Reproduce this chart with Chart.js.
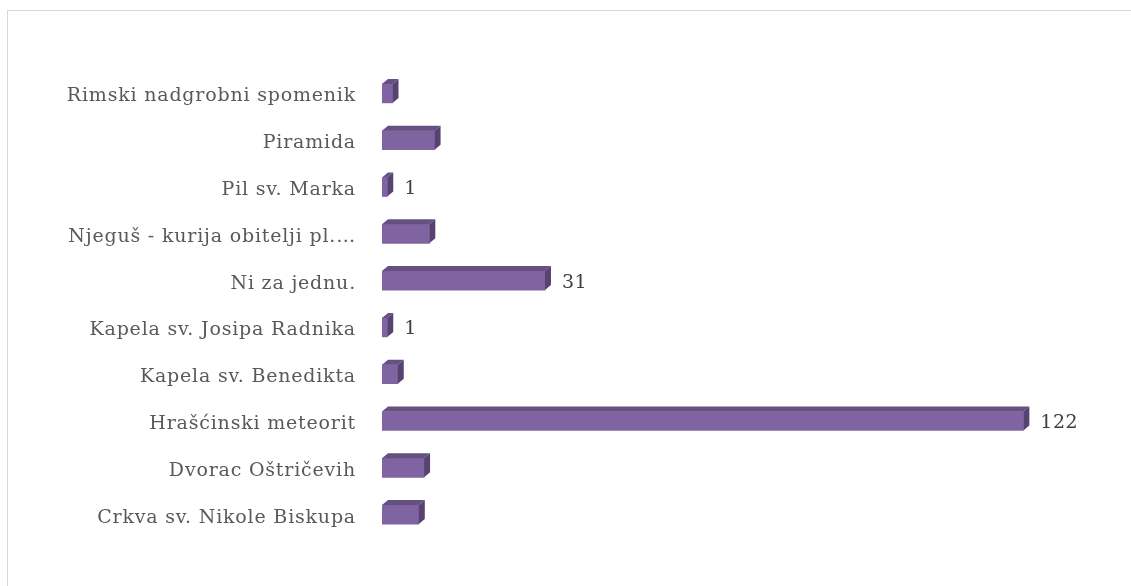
<!DOCTYPE html>
<html>
<head>
<meta charset="utf-8">
<script src="https://cdn.jsdelivr.net/npm/chart.js@4/dist/chart.umd.min.js"></script>
<style>
  html, body { margin: 0; padding: 0; background: #ffffff; }
  #wrap { width: 1131px; height: 586px; position: relative; }
</style>
</head>
<body>
<div id="wrap"><canvas id="c" width="1131" height="586"></canvas></div>
<script>
const categories = [
  'Rimski nadgrobni spomenik',
  'Piramida',
  'Pil sv. Marka',
  'Njeguš - kurija obitelji pl.…',
  'Ni za jednu.',
  'Kapela sv. Josipa Radnika',
  'Kapela sv. Benedikta',
  'Hrašćinski meteorit',
  'Dvorac Oštričevih',
  'Crkva sv. Nikole Biskupa'
];
const values = [2, 10, 1, 9, 31, 1, 3, 122, 8, 7];
const shownLabels = [null, null, '1', null, '31', '1', null, '122', null, null];
const xMax = 140;

const DX = 6, DY = -5;

const frameAndDepth = {
  id: 'frameAndDepth',
  beforeDraw(chart) {
    const ctx = chart.ctx;
    ctx.save();
    ctx.strokeStyle = '#D9D9D9';
    ctx.lineWidth = 1;
    ctx.strokeRect(7.5, 10.5, chart.width + 20, chart.height + 20);
    ctx.restore();
    ctx.letterSpacing = '0.8px';
  },
  afterDatasetsDraw(chart) {
    const ctx = chart.ctx;
    const meta = chart.getDatasetMeta(0);
    ctx.save();
    meta.data.forEach((bar, i) => {
      const x0 = bar.base, x1 = bar.x;
      const top = bar.y - bar.height / 2, bot = bar.y + bar.height / 2;
      // top face
      ctx.fillStyle = '#655082';
      ctx.beginPath();
      ctx.moveTo(x0, top);
      ctx.lineTo(x0 + DX, top + DY);
      ctx.lineTo(x1 + DX, top + DY);
      ctx.lineTo(x1, top);
      ctx.closePath();
      ctx.fill();
      // side face
      ctx.fillStyle = '#564372';
      ctx.beginPath();
      ctx.moveTo(x1, top);
      ctx.lineTo(x1 + DX, top + DY);
      ctx.lineTo(x1 + DX, bot + DY);
      ctx.lineTo(x1, bot);
      ctx.closePath();
      ctx.fill();
      // value label
      const lab = shownLabels[i];
      if (lab !== null) {
        ctx.fillStyle = '#404040';
        ctx.font = '19px "DejaVu Serif"';
        ctx.letterSpacing = '0.5px';
        ctx.textAlign = 'left';
        ctx.textBaseline = 'middle';
        ctx.fillText(lab, x1 + 17, bar.y + 2);
      }
    });
    ctx.restore();
  }
};

new Chart(document.getElementById('c'), {
  type: 'bar',
  data: {
    labels: categories,
    datasets: [{
      data: values,
      backgroundColor: '#8064A2',
      borderWidth: 0,
      barThickness: 19
    }]
  },
  options: {
    indexAxis: 'y',
    responsive: false,
    animation: false,
    layout: { padding: { top: 70, bottom: 48, left: 0, right: 13 } },
    plugins: { legend: { display: false }, tooltip: { enabled: false } },
    scales: {
      x: {
        min: 0, max: xMax,
        display: false,
        grid: { display: false }
      },
      y: {
        grid: { display: false, drawTicks: false },
        border: { display: false },
        ticks: {
          color: '#595959',
          font: { family: '"DejaVu Serif"', size: 19 },
          padding: 26,
          labelOffset: 3
        },
        afterFit(scale) { scale.width = 382; }
      }
    }
  },
  plugins: [frameAndDepth]
});
</script>
</body>
</html>
